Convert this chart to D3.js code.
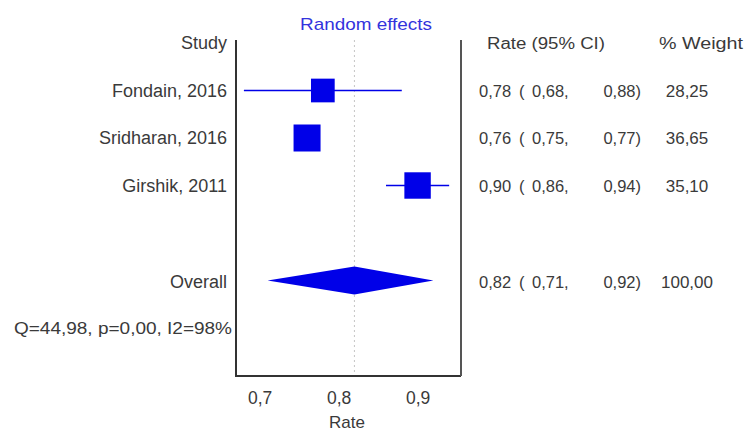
<!DOCTYPE html>
<html>
<head>
<meta charset="utf-8">
<script src="https://cdn.jsdelivr.net/npm/d3@7"></script>
<style>
  html, body { margin: 0; padding: 0; background: #fff; }
  svg { display: block; }
  text { font-family: "Liberation Sans", Arial, sans-serif; fill: #3a3a3a; }
</style>
</head>
<body>
<svg id="chart" width="745" height="431"></svg>
<script>
// Study-level estimates (rate with 95% CI) and random-effects weights
const studies = ["Fondain, 2016", "Sridharan, 2016", "Girshik, 2011"];
const rates   = [0.78, 0.76, 0.90];
const lowers  = [0.68, 0.75, 0.86];
const uppers  = [0.88, 0.77, 0.94];
const weights = [28.25, 36.65, 35.10];

// Pooled estimate
const overallRate   = 0.82;
const overallLower  = 0.71;
const overallUpper  = 0.92;
const overallWeight = 100.00;

const heterogeneity = "Q=44,98, p=0,00, I2=98%";
const xTicks = [0.7, 0.8, 0.9];

const svg = d3.select("#chart");
const comma = v => v.replace(".", ",");
const f2 = v => comma(d3.format(".2f")(v));
const f1 = v => comma(d3.format(".1f")(v));

// Layout
const plotLeft = 236, plotRight = 461, plotTop = 40, plotBottom = 376;
const x = d3.scaleLinear().domain([0.67, 0.955]).range([plotLeft, plotRight]);
const rowY = d3.scaleLinear().domain([0, 1]).range([43, 90.5]); // row index -> centre y
const side = d3.scaleSqrt().domain([0, 36.65]).range([0, 27]);  // square side ~ sqrt(weight)

const blue = "#0000e8";

// Title
svg.append("text").attr("x", 366).attr("y", 30)
  .attr("text-anchor", "middle").style("font-size", "17px").style("fill", "#3333dd")
  .attr("textLength", 132).attr("lengthAdjust", "spacingAndGlyphs")
  .text("Random effects");

// Reference line at pooled estimate
svg.append("line")
  .attr("x1", x(overallRate)).attr("x2", x(overallRate))
  .attr("y1", plotTop).attr("y2", plotBottom)
  .attr("stroke", "#c4c4c4").attr("stroke-width", 1).attr("stroke-dasharray", "2,3");

// Frame: left axis, right border, bottom axis
svg.append("path")
  .attr("d", `M${plotLeft},${plotTop}V${plotBottom}H${plotRight}`)
  .attr("fill", "none").attr("stroke", "#333").attr("stroke-width", 2);
svg.append("line")
  .attr("x1", plotRight).attr("x2", plotRight).attr("y1", plotTop).attr("y2", plotBottom)
  .attr("stroke", "#555").attr("stroke-width", 2);

// Bottom axis labels
const axis = d3.axisBottom(x).tickValues(xTicks).tickFormat(f1).tickSize(0).tickPadding(16);
const gAxis = svg.append("g").attr("transform", `translate(0,${plotBottom})`).call(axis);
gAxis.select(".domain").remove();
gAxis.selectAll("text").style("font-size", "17.5px").style("fill", "#3a3a3a")
  .style("font-family", "Liberation Sans, Arial, sans-serif");
svg.append("text").attr("x", 347).attr("y", 428).attr("text-anchor", "middle")
  .style("font-size", "17px").text("Rate");

// Column headers
svg.append("text").attr("x", 227).attr("y", rowY(0) + 6).attr("text-anchor", "end")
  .style("font-size", "18px").text("Study");
svg.append("text").attr("x", 487).attr("y", rowY(0) + 6)
  .style("font-size", "16px").attr("textLength", 118).attr("lengthAdjust", "spacingAndGlyphs")
  .text("Rate (95% CI)");
svg.append("text").attr("x", 659).attr("y", rowY(0) + 6)
  .style("font-size", "16px").attr("textLength", 84).attr("lengthAdjust", "spacingAndGlyphs")
  .text("% Weight");

// Study rows
const rows = studies.map((s, i) => ({
  name: s, rate: rates[i], lo: lowers[i], hi: uppers[i], w: weights[i], y: rowY(i + 1)
}));

const g = svg.append("g").selectAll("g").data(rows).join("g");
g.append("text").attr("x", 227).attr("y", d => d.y + 6).attr("text-anchor", "end")
  .style("font-size", "18px").text(d => d.name);
g.append("line")
  .attr("x1", d => x(d.lo)).attr("x2", d => x(d.hi))
  .attr("y1", d => d.y).attr("y2", d => d.y)
  .attr("stroke", blue).attr("stroke-width", 1.5);
g.append("rect")
  .attr("x", d => x(d.rate) - side(d.w) / 2).attr("y", d => d.y - side(d.w) / 2)
  .attr("width", d => side(d.w)).attr("height", d => side(d.w))
  .attr("fill", blue);

// Right-hand columns (estimate, CI, weight)
function ciText(sel, est, lo, hi, w, y) {
  sel.append("text").attr("x", 479).attr("y", y + 6).style("font-size", "16.5px").text(f2(est));
  sel.append("text").attr("x", 519).attr("y", y + 6).style("font-size", "16.5px").text("(");
  sel.append("text").attr("x", 532).attr("y", y + 6).style("font-size", "16.5px").text(f2(lo) + ",");
  sel.append("text").attr("x", 641).attr("y", y + 6).attr("text-anchor", "end").style("font-size", "16.5px")
    .text(f2(hi) + ")");
  sel.append("text").attr("x", 687).attr("y", y + 6).attr("text-anchor", "middle").style("font-size", "17px")
    .text(f2(w));
}
rows.forEach(d => ciText(svg, d.rate, d.lo, d.hi, d.w, d.y));

// Pooled row
const yO = rowY(5);
svg.append("text").attr("x", 227).attr("y", yO + 7).attr("text-anchor", "end")
  .style("font-size", "18px").text("Overall");
svg.append("path")
  .attr("d", `M${x(overallLower)},${yO}L${x(overallRate)},${yO - 14}L${x(overallUpper)},${yO}L${x(overallRate)},${yO + 14}Z`)
  .attr("fill", blue);
ciText(svg, overallRate, overallLower, overallUpper, overallWeight, yO + 1);

// Heterogeneity statistics
svg.append("text").attr("x", 14).attr("y", rowY(6) + 6)
  .style("font-size", "17px").attr("textLength", 218).attr("lengthAdjust", "spacingAndGlyphs")
  .text(heterogeneity);
</script>
</body>
</html>
